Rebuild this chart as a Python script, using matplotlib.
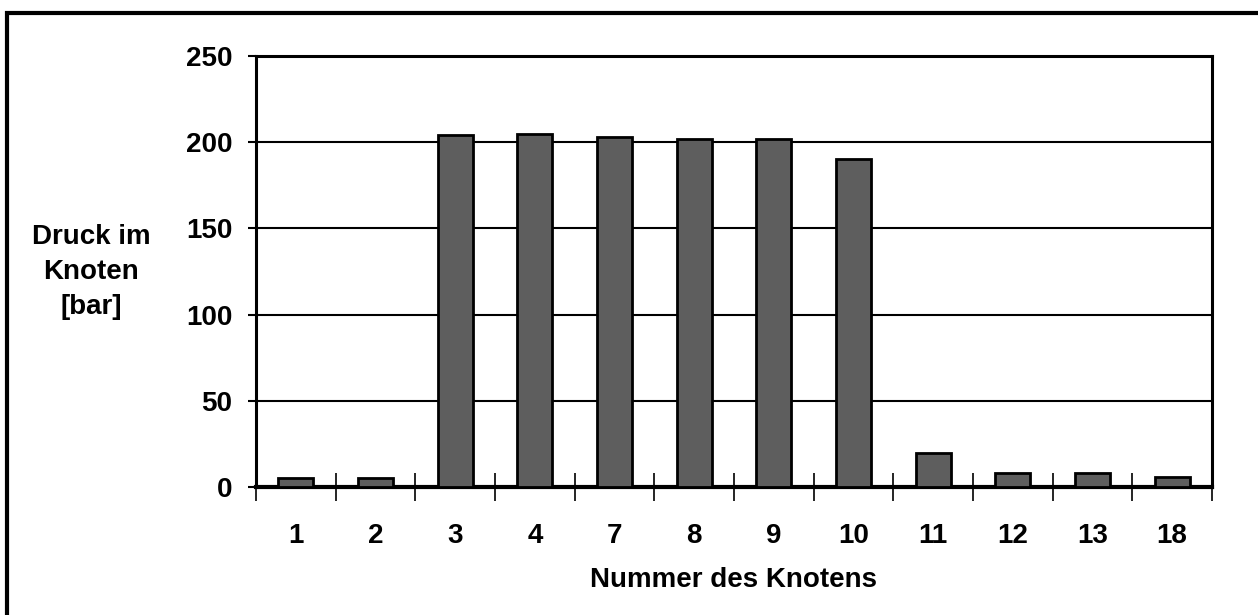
import matplotlib.pyplot as plt
from matplotlib.patches import Rectangle
from matplotlib.ticker import FixedLocator

# Druck in den einzelnen Knoten
knoten = ["1", "2", "3", "4", "7", "8", "9", "10", "11", "12", "13", "18"]
druck = [5, 5, 204, 205, 203, 202, 202, 190, 20, 8, 8, 6]
y_ticks = [0, 50, 100, 150, 200, 250]

plt.rcParams['font.family'] = ['Liberation Sans', 'DejaVu Sans']
plt.rcParams['font.weight'] = 'bold'

fig = plt.figure(figsize=(12.58, 6.15), dpi=100)
ax = fig.add_axes([256 / 1258, 1 - 487 / 615, (1212 - 256) / 1258, (487 - 56) / 615])

x = range(len(knoten))
ax.bar(x, druck, width=0.44, color='#5e5e5e', edgecolor='black',
       linewidth=2, zorder=3)

ax.set_xlim(-0.5, len(knoten) - 0.5)
ax.set_ylim(0, 250)
ax.set_yticks(y_ticks)
ax.set_yticklabels([str(v) for v in y_ticks], fontsize=20, fontweight='bold')
ax.set_xticks(list(x))
ax.set_xticklabels(knoten, fontsize=20, fontweight='bold')

# Trennstriche zwischen den Kategorien
ax.xaxis.set_minor_locator(FixedLocator([i - 0.5 for i in range(len(knoten) + 1)]))
ax.tick_params(axis='x', which='major', length=0, pad=26)
ax.tick_params(axis='x', which='minor', direction='inout', length=20, width=1.2)
ax.tick_params(axis='y', direction='out', length=6, width=1.5, pad=11)

ax.yaxis.grid(True, color='black', linewidth=1.5, zorder=0)
ax.set_axisbelow(True)
for side in ['left', 'top', 'right']:
    ax.spines[side].set_linewidth(2.2)
ax.spines['bottom'].set_linewidth(3)

ax.set_xlabel("Nummer des Knotens", fontsize=20, fontweight='bold', labelpad=13)
fig.text(91 / 1258, 1 - 272 / 615, "Druck im\nKnoten\n[bar]", fontsize=20,
         fontweight='bold', ha='center', va='center', multialignment='center',
         linespacing=1.45)

# Rahmen um das ganze Diagramm
fig.patches.append(Rectangle((7 / 1258, -0.1), 1.2, 1 - 13 / 615 + 0.1,
                             transform=fig.transFigure, fill=False,
                             edgecolor='black', linewidth=3))

fig.savefig("out.png", dpi=100)
